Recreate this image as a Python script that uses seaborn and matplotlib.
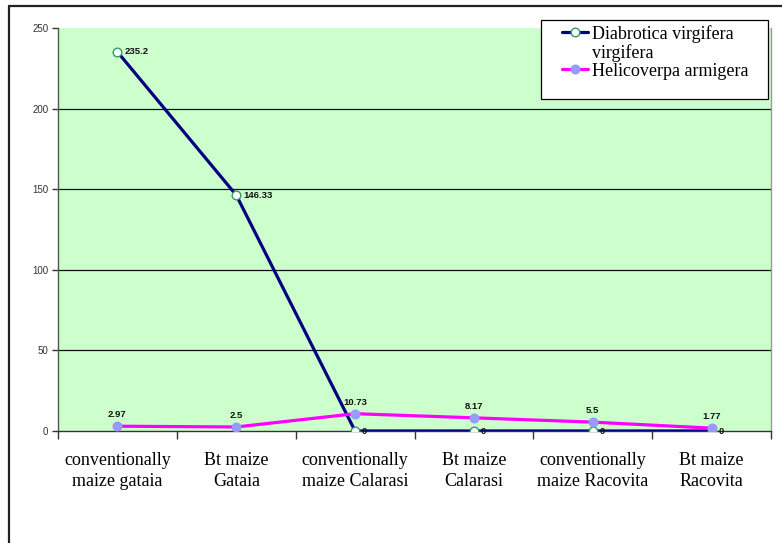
import matplotlib
matplotlib.use("Agg")
import matplotlib.pyplot as plt
from matplotlib.lines import Line2D
from matplotlib.patches import Rectangle
import numpy as np
import pandas as pd
import seaborn as sns

# Sites / treatments on the x axis
categories = [
    "conventionally\nmaize gataia",
    "Bt maize\nGataia",
    "conventionally\nmaize Calarasi",
    "Bt maize\nCalarasi",
    "conventionally\nmaize Racovita",
    "Bt maize\nRacovita",
]
series_names = ["Diabrotica virgifera virgifera", "Helicoverpa armigera"]
diabrotica = [235.2, 146.33, 0, 0, 0, 0]
helicoverpa = [2.97, 2.5, 10.73, 8.17, 5.5, 1.77]
y_ticks = [0, 50, 100, 150, 200, 250]

sns.set_theme(style="white")
serif = ["Liberation Serif", "DejaVu Serif"]
sans = ["Liberation Sans", "DejaVu Sans"]
plt.rcParams["font.family"] = sans

W, H = 782, 543
fig = plt.figure(figsize=(W / 100, H / 100), dpi=100)
fig.patch.set_facecolor("white")

def fx(px):
    return px / W

def fy(py):
    return 1 - py / H

ax = fig.add_axes([fx(58), fy(431), fx(771) - fx(58), fy(28) - fy(431)])
ax.set_facecolor("#CCFFCC")

pos = np.arange(len(categories))
df = pd.DataFrame({"pos": np.concatenate([pos, pos]),
                   "value": diabrotica + helicoverpa,
                   "series": [series_names[0]] * len(pos) + [series_names[1]] * len(pos)})

navy = "#000080"
magenta = "#FF00FF"
msize = 6.2
sns.lineplot(data=df[df.series == series_names[0]], x="pos", y="value", ax=ax,
             color=navy, linewidth=2.3, marker="o", markersize=msize,
             markerfacecolor="white", markeredgecolor="#339966",
             markeredgewidth=1.0, zorder=3, legend=False)
sns.lineplot(data=df[df.series == series_names[1]], x="pos", y="value", ax=ax,
             color=magenta, linewidth=2.3, marker="o", markersize=msize,
             markerfacecolor="#9999FF", markeredgecolor="#9999FF",
             markeredgewidth=1.0, zorder=4, legend=False)

# value labels
for x, v in zip(pos, diabrotica):
    ax.annotate(f"{v:g}", (x, v), xytext=(5, 0), textcoords="offset points",
                ha="left", va="center", fontsize=6.8, fontweight="bold",
                color="#111111", zorder=6)
for x, v in zip(pos, helicoverpa):
    ax.annotate(f"{v:g}", (x, v), xytext=(0, 5), textcoords="offset points",
                ha="center", va="bottom", fontsize=6.8, fontweight="bold",
                color="#111111", zorder=6)

ax.set_xlim(-0.5, len(categories) - 0.5)
ax.set_ylim(0, 250)
ax.set_yticks(y_ticks)
ax.set_yticklabels([str(t) for t in y_ticks], fontsize=7, color="#333333")
ax.set_xticks(pos)
ax.set_xticklabels(categories, fontsize=13, family=serif, color="black",
                   linespacing=1.3)
ax.set_xticks(np.arange(-0.5, len(categories), 1.0), minor=True)
ax.tick_params(axis="x", which="major", length=0, pad=15)
ax.tick_params(axis="x", which="minor", length=6, width=1, color="#333333",
               direction="out", bottom=True)
ax.tick_params(axis="y", which="major", length=4, width=1, color="#333333",
               direction="out", left=True, pad=3)
ax.set_xlabel("")
ax.set_ylabel("")

ax.yaxis.grid(True, color="#111111", linewidth=0.9)
ax.set_axisbelow(True)
ax.yaxis.get_gridlines()[-1].set_visible(False)
ax.yaxis.get_gridlines()[0].set_visible(False)

ax.spines["top"].set_visible(False)
ax.spines["right"].set_color("#999999")
ax.spines["right"].set_linewidth(1.0)
ax.spines["left"].set_color("#555555")
ax.spines["left"].set_linewidth(1.0)
ax.spines["bottom"].set_color("#333333")
ax.spines["bottom"].set_linewidth(1.0)

# chart frame
fig.add_artist(Line2D([fx(9), fx(9)], [fy(6), 0], color="#222222", linewidth=1.6))
fig.add_artist(Line2D([fx(9), 1], [fy(6), fy(6)], color="#222222", linewidth=1.6))

# legend box
fig.add_artist(Rectangle((fx(541), fy(99)), fx(768) - fx(541), fy(20) - fy(99),
                         facecolor="white", edgecolor="black", linewidth=0.9,
                         zorder=10))
for yy, col, fc, ec in [(32, navy, "white", "#339966"),
                        (68.5, magenta, "#9999FF", "#9999FF")]:
    fig.add_artist(Line2D([fx(562), fx(588)], [fy(yy), fy(yy)], color=col,
                          linewidth=2.3, zorder=11))
    fig.add_artist(Line2D([fx(575)], [fy(yy)], marker="o", markersize=msize,
                          markerfacecolor=fc, markeredgecolor=ec,
                          markeredgewidth=1.0, linestyle="none", zorder=12))
for txt, yb in [("Diabrotica virgifera", 39), ("virgifera", 58.5),
                ("Helicoverpa armigera", 76)]:
    fig.text(fx(592), fy(yb), txt, fontsize=13, family=serif, ha="left",
             va="baseline", color="black", zorder=12)

fig.savefig("out.png", dpi=100)
